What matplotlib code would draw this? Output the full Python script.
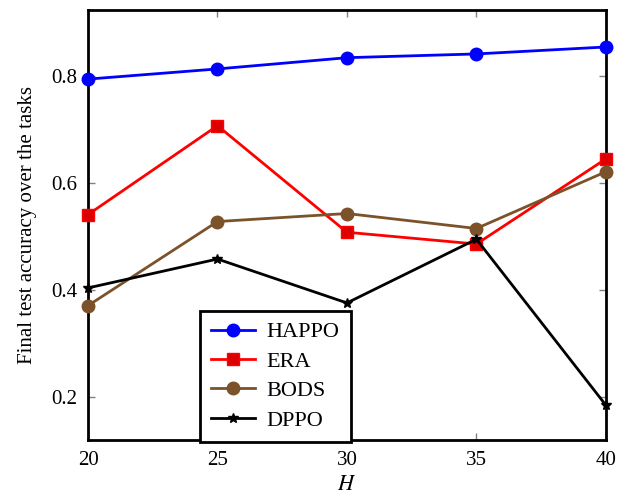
import matplotlib
matplotlib.use("Agg")
import matplotlib.pyplot as plt

plt.rcParams['font.family'] = ['Liberation Serif', 'DejaVu Serif']
plt.rcParams['mathtext.fontset'] = 'stix'

H = [20, 25, 30, 35, 40]
happo = [0.794, 0.813, 0.834, 0.841, 0.854]
era = [0.541, 0.707, 0.508, 0.486, 0.645]
bods = [0.371, 0.528, 0.543, 0.515, 0.621]
dppo = [0.404, 0.458, 0.376, 0.495, 0.185]

fig = plt.figure(figsize=(6.18, 4.99), dpi=100)
ax = fig.add_axes([0.1424, 0.1182, 0.838, 0.8617])

ax.plot(H, happo, color='blue', lw=2, marker='o', ms=9, label='HAPPO', clip_on=False, zorder=3)
ax.plot(H, era, color='red', lw=2, marker='s', ms=9, label='ERA', mfc='#dd0000', mec='red', clip_on=False, zorder=3)
ax.plot(H, bods, color='#7b5229', lw=2, marker='o', ms=9, label='BODS', clip_on=False, zorder=3)
ax.plot(H, dppo, color='black', lw=2, marker='*', ms=7, label='DPPO', clip_on=False, zorder=3)

ax.set_xlim(20, 40)
ax.set_ylim(0.12, 0.923)
ax.set_xticks([20, 25, 30, 35, 40])
ax.set_yticks([0.2, 0.4, 0.6, 0.8])
ax.tick_params(direction='in', color='gray', length=5, width=1, labelsize=15,
               top=True, right=True, pad=8)
for s in ax.spines.values():
    s.set_linewidth(2)

ax.set_xlabel('$H$', fontsize=16, labelpad=4)
ax.set_ylabel('Final test accuracy over the tasks', fontsize=15, labelpad=10)

leg = ax.legend(loc='lower left', bbox_to_anchor=(0.216, -0.004), fontsize=16,
                fancybox=False, framealpha=1, edgecolor='black',
                handlelength=2.0, borderpad=0.5, labelspacing=0.4,
                handletextpad=0.5, borderaxespad=0)
leg.get_frame().set_linewidth(2)

fig.savefig('out.png', dpi=100)
